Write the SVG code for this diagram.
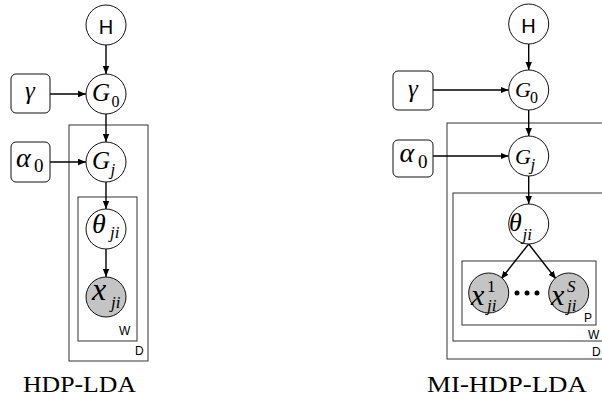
<svg xmlns="http://www.w3.org/2000/svg" width="602" height="399" viewBox="0 0 602 399">
  <style>
    .node { fill: #fff; stroke: #111; stroke-width: 1; }
    .obs { fill: #c4c4c4; stroke: #111; stroke-width: 1; }
    .box { fill: #fff; stroke: #111; stroke-width: 1; }
    .plate { fill: none; stroke: #333; stroke-width: 1; }
    .edge { stroke: #000; stroke-width: 1.4; fill: none; marker-end: url(#arrow); }
    .sans { font-family: "Liberation Sans", Arial, sans-serif; fill: #000; }
    .math { font-family: "Liberation Serif", "Times New Roman", serif; font-style: italic; fill: #000; }
    .num { font-family: "Liberation Serif", "Times New Roman", serif; fill: #000; }
    .cap { font-family: "Liberation Serif", "Times New Roman", serif; font-size: 24px; fill: #000; }
    .plab { font-family: "Liberation Sans", Arial, sans-serif; font-size: 12px; fill: #000; }
  </style>
  <defs>
    <marker id="arrow" markerUnits="userSpaceOnUse" markerWidth="8" markerHeight="8" viewBox="0 0 8 8" refX="8" refY="4" orient="auto">
      <path d="M0,0.8 L8,4 L0,7.2 Z" fill="#000"/>
    </marker>
  </defs>

  <!-- ===== HDP-LDA ===== -->
  <g id="hdp-plates">
    <rect class="plate" x="69" y="125" width="79" height="236"/>
    <text class="plab" x="135" y="355">D</text>
    <rect class="plate" x="78" y="197" width="59" height="144" stroke="#555"/>
    <text class="plab" x="119" y="335">W</text>
  </g>

  <g id="hdp-edges">
    <line class="edge" x1="106" y1="45" x2="106" y2="74"/>
    <line class="edge" x1="50" y1="94" x2="86" y2="94"/>
    <line class="edge" x1="106" y1="114" x2="106" y2="142"/>
    <line class="edge" x1="50" y1="162" x2="86" y2="162"/>
    <line class="edge" x1="106" y1="182" x2="106" y2="209"/>
    <line class="edge" x1="106" y1="249" x2="106" y2="277"/>
  </g>

  <g id="hdp-H">
    <circle class="node" cx="106" cy="25" r="20"/>
    <text class="sans" x="106" y="34" font-size="20" text-anchor="middle">H</text>
  </g>
  <g id="hdp-gamma">
    <rect class="box" x="11" y="74" width="39" height="39" rx="5"/>
    <text class="math" x="30" y="99" font-size="25" text-anchor="middle">γ</text>
  </g>
  <g id="hdp-G0">
    <circle class="node" cx="106" cy="94" r="20"/>
    <text class="math" x="92" y="101" font-size="25">G</text>
    <text class="num" x="111.5" y="107" font-size="16">0</text>
  </g>
  <g id="hdp-alpha">
    <rect class="box" x="11" y="142" width="39" height="40" rx="5"/>
    <text class="math" x="16" y="167" font-size="28">α</text>
    <text class="num" x="34" y="172" font-size="19">0</text>
  </g>
  <g id="hdp-Gj">
    <circle class="node" cx="106" cy="162" r="20"/>
    <text class="math" x="92" y="169" font-size="25">G</text>
    <text class="math" x="110.5" y="175" font-size="17">j</text>
  </g>
  <g id="hdp-theta">
    <circle class="node" cx="106" cy="229" r="20"/>
    <text class="math" x="92" y="233" font-size="28">θ</text>
    <text class="math" x="110" y="238" font-size="17">ji</text>
  </g>
  <g id="hdp-x">
    <circle class="obs" cx="106" cy="297" r="20"/>
    <text class="math" x="92" y="300" font-size="32">x</text>
    <text class="math" x="111" y="308" font-size="17">ji</text>
  </g>
  <text class="cap" x="79.5" y="392" text-anchor="middle" textLength="113" lengthAdjust="spacingAndGlyphs">HDP-LDA</text>

  <!-- ===== MI-HDP-LDA ===== -->
  <g id="mi-plates">
    <rect class="plate" x="447" y="123" width="180" height="236"/>
    <text class="plab" x="592" y="356">D</text>
    <rect class="plate" x="453" y="193" width="149.5" height="148"/>
    <text class="plab" x="588" y="339">W</text>
    <rect class="plate" x="462" y="261" width="134" height="64"/>
    <text class="plab" x="584" y="322">P</text>
  </g>

  <g id="mi-edges">
    <line class="edge" x1="528.7" y1="44" x2="528.7" y2="70"/>
    <line class="edge" x1="433" y1="90" x2="508.5" y2="90"/>
    <line class="edge" x1="528.7" y1="110" x2="528.7" y2="136"/>
    <line class="edge" x1="433" y1="156" x2="508.5" y2="156"/>
    <line class="edge" x1="528.7" y1="176" x2="528.7" y2="204"/>
    <line class="edge" x1="528.7" y1="244" x2="501" y2="279"/>
    <line class="edge" x1="528.7" y1="244" x2="556" y2="279"/>
  </g>

  <g id="mi-H">
    <circle class="node" cx="528.7" cy="24" r="20"/>
    <text class="sans" x="528.5" y="32.7" font-size="20" text-anchor="middle">H</text>
  </g>
  <g id="mi-gamma">
    <rect class="box" x="393" y="71" width="40" height="39" rx="5"/>
    <text class="math" x="413" y="97" font-size="25" text-anchor="middle">γ</text>
  </g>
  <g id="mi-G0">
    <circle class="node" cx="528.7" cy="90" r="20"/>
    <text class="math" x="515" y="97" font-size="22">G</text>
    <text class="num" x="530" y="103" font-size="16">0</text>
  </g>
  <g id="mi-alpha">
    <rect class="box" x="393" y="140" width="40" height="37" rx="5"/>
    <text class="math" x="399.5" y="162" font-size="28">α</text>
    <text class="num" x="418" y="168" font-size="19">0</text>
  </g>
  <g id="mi-Gj">
    <circle class="node" cx="528.7" cy="156" r="20"/>
    <text class="math" x="515" y="163.5" font-size="22">G</text>
    <text class="math" x="530.5" y="170" font-size="17">j</text>
  </g>
  <g id="mi-theta">
    <circle class="node" cx="528.7" cy="224" r="20"/>
    <text class="math" x="509" y="231" font-size="26">θ</text>
    <text class="math" x="522.5" y="240" font-size="17">ji</text>
  </g>
  <g id="mi-x1">
    <circle class="obs" cx="488.7" cy="293" r="20"/>
    <text class="math" x="471" y="305" font-size="30">x</text>
    <text class="num" x="487" y="291.5" font-size="17">1</text>
    <text class="math" x="487" y="311" font-size="17">ji</text>
  </g>
  <g id="mi-dots">
    <circle cx="517" cy="293" r="2.5" fill="#000"/>
    <circle cx="527" cy="293" r="2.5" fill="#000"/>
    <circle cx="537" cy="293" r="2.5" fill="#000"/>
  </g>
  <g id="mi-xS">
    <circle class="obs" cx="568.7" cy="293" r="20"/>
    <text class="math" x="551" y="305" font-size="30">x</text>
    <text class="math" x="567" y="291.5" font-size="17">S</text>
    <text class="math" x="567" y="311" font-size="17">ji</text>
  </g>
  <text class="cap" x="507" y="392" text-anchor="middle" textLength="160" lengthAdjust="spacingAndGlyphs">MI-HDP-LDA</text>
</svg>
